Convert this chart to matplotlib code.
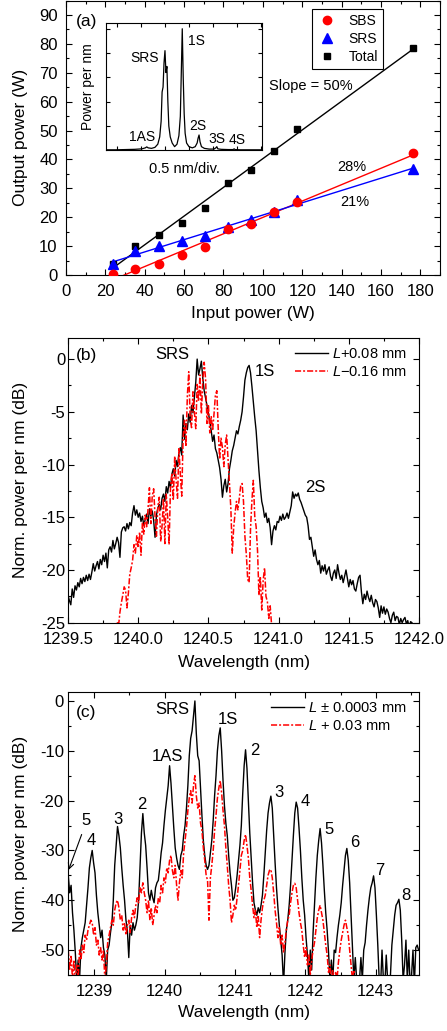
import numpy as np
import matplotlib
matplotlib.use('Agg')
import matplotlib.pyplot as plt
from matplotlib.ticker import MultipleLocator, FormatStrFormatter

plt.rcParams['font.family'] = ['Liberation Sans', 'DejaVu Sans']
plt.rcParams['mathtext.fontset'] = 'custom'
plt.rcParams['mathtext.rm'] = 'Liberation Sans'
plt.rcParams['mathtext.it'] = 'Liberation Sans:italic'
plt.rcParams['axes.unicode_minus'] = False

# ---- (a) output power vs input power ----
input_power = [23.7, 35.3, 47.1, 58.8, 70.5, 82.4, 94.1, 105.8, 117.5, 176.3]
out_sbs = [0.5, 2.1, 3.9, 6.9, 9.8, 15.9, 17.7, 21.7, 25.3, 42.1]
out_srs = [3.8, 8.2, 10.2, 11.6, 13.6, 16.5, 18.9, 21.9, 26.0, 36.7]
out_total = [3.8, 9.9, 13.8, 18.1, 23.1, 31.8, 36.2, 43.0, 50.6, 78.7]

# inset spectrum (linear, arb. units)
inset_wl = [1239.20, 1239.40, 1239.60, 1239.80, 1239.95, 1240.02, 1240.05, 1240.08, 1240.15, 1240.22,
            1240.28, 1240.32, 1240.35, 1240.37, 1240.39, 1240.41, 1240.43, 1240.45, 1240.47, 1240.49,
            1240.51, 1240.54, 1240.58, 1240.63, 1240.68, 1240.72, 1240.75, 1240.77, 1240.79, 1240.81,
            1240.83, 1240.85, 1240.88, 1240.93, 1241.00, 1241.06, 1241.10, 1241.12, 1241.14, 1241.16,
            1241.19, 1241.25, 1241.35, 1241.45, 1241.49, 1241.51, 1241.53, 1241.60, 1241.75, 1241.85,
            1241.87, 1241.89, 1242.00, 1242.20, 1242.45]
inset_pow = [0.02, 0.02, 0.03, 0.04, 0.06, 0.10, 0.14, 0.10, 0.08, 0.12,
             0.25, 0.55, 1.2, 2.4, 2.6, 3.6, 4.1, 3.2, 3.45, 2.0,
             1.0, 0.55, 0.3, 0.15, 0.25, 0.6, 1.4, 3.2, 5.0, 3.0,
             1.5, 0.7, 0.3, 0.15, 0.1, 0.15, 0.3, 0.5, 0.63, 0.35,
             0.15, 0.08, 0.05, 0.05, 0.1, 0.15, 0.06, 0.04, 0.03, 0.03,
             0.06, 0.03, 0.02, 0.02, 0.02]

# ---- (b) spectra, 0.01 nm grid ----
b_black_start = 1239.50
b_black = [
    -22.4, -22.9, -23.3, -21.8, -22.6, -21.5, -21.9, -21.2, -21.6, -20.8,
    -21.3, -20.7, -21.1, -20.5, -21.0, -20.4, -20.9, -20.2, -19.4, -20.1,
    -19.6, -19.2, -19.9, -19.0, -19.5, -18.6, -19.2, -18.4, -19.8, -18.1,
    -17.8, -18.3, -17.2, -18.0, -17.5, -16.9, -17.4, -18.8, -16.4, -16.0,
    -15.9, -16.3, -15.6, -16.1, -15.5, -15.8, -14.6, -13.9, -14.8, -14.3,
    -15.0, -14.6, -15.4, -14.9, -15.8, -15.2, -14.7, -15.6, -14.2, -14.9,
    -14.4, -15.3, -16.9, -14.8, -14.1, -13.8, -14.3, -13.2, -12.8, -13.5,
    -12.1, -12.7, -11.6, -12.2, -10.9, -10.4, -11.1, -9.6, -10.2, -8.9,
    -8.4, -9.1, -5.3, -7.6, -6.1, -6.7, -5.2, -6.0, -4.4, -5.1,
    -3.6, -2.2, 0.0, -1.5, -0.9, -0.2, -1.8, -3.0, -3.7, -4.4,
    -5.1, -5.9, -6.8, -7.8, -7.2, -8.5, -8.9, -9.6, -10.3, -11.4,
    -13.1, -12.0, -11.4, -12.6, -11.8, -10.4, -9.6, -8.7, -8.2, -7.5,
    -6.8, -7.1, -6.4, -5.8, -5.0, -3.6, -2.0, -1.3, -0.8, -0.6,
    -1.3, -2.6, -4.1, -5.5, -6.8, -8.7, -10.6, -12.2, -13.5, -14.1,
    -15.0, -14.6, -15.5, -15.1, -16.0, -17.6, -16.3, -15.8, -16.2, -15.4,
    -15.5, -14.9, -15.3, -14.7, -15.2, -15.0, -14.6, -15.1, -14.5, -13.9,
    -12.6, -13.2, -12.8, -13.0, -12.7, -13.3, -13.6, -14.0, -14.4, -14.8,
    -15.0, -15.8, -17.1, -16.9, -17.8, -18.7, -18.1, -19.0, -19.5, -19.1,
    -20.3, -19.6, -20.1, -19.5, -20.4, -20.0, -19.7, -20.6, -21.0, -20.3,
    -20.0, -20.8, -19.5, -20.3, -20.9, -20.5, -21.2, -20.6, -20.0, -20.8,
    -21.6, -20.9, -21.4, -21.0, -21.8, -22.0, -21.3, -20.7, -20.5, -22.1,
    -23.2, -22.3, -22.8, -22.0, -22.6, -23.0, -22.4, -23.1, -23.5, -22.8,
    -23.0, -23.6, -24.5, -23.4, -24.1, -23.5, -24.2, -23.7, -24.0, -24.6,
    -25.0, -24.3, -24.0, -24.8, -24.4, -24.5, -25.2, -24.6, -25.0, -24.7,
    -24.5, -25.1, -24.8, -25.5, -24.9, -25.0, -25.3]
b_red_start = 1239.84
b_red = [
    -25.6, -24.9, -25.3, -24.0, -23.1, -22.4, -21.6, -21.9, -23.6, -22.2,
    -20.4, -19.8, -19.1, -17.6, -18.4, -16.7, -17.9, -16.4, -18.6, -15.5,
    -16.6, -14.8, -15.9, -14.2, -12.2, -15.6, -13.0, -12.3, -14.9, -16.8,
    -14.0, -13.1, -17.3, -15.8, -13.2, -17.5, -12.8, -15.0, -17.6, -12.2,
    -10.8, -13.4, -9.2, -11.5, -13.2, -8.5, -10.9, -13.0, -7.4, -5.8,
    -8.3, -3.5, -1.2, -5.6, -6.5, -3.1, -5.0, -6.6, -2.4, -4.0,
    -1.5, -5.2, -2.1, -0.3, -1.9, -6.1, -4.3, -7.0, -5.4, -6.8,
    -5.2, -3.4, -3.0, -6.6, -9.5, -7.5, -8.4, -10.2, -8.1, -7.2,
    -9.5, -11.8, -14.2, -18.4, -16.0, -14.6, -13.5, -14.3, -13.2, -12.0,
    -11.8, -13.5, -16.8, -18.5, -20.9, -21.2, -16.1, -13.4, -11.5, -14.9,
    -15.9, -18.2, -22.4, -20.6, -23.8, -21.0, -19.8, -22.5, -23.0, -24.6,
    -23.4, -25.2, -26.5]

# ---- (c) spectra, 0.02 nm grid ----
c_black_start = 1238.63
c_black = [
    -35.0, -38.5, -37.0, -42.5, -46.0, -50.5, -56.0, -52.0, -56.0, -49.5,
    -47.5, -46.0, -44.5, -41.0, -37.5, -33.5, -31.5, -30.0, -32.5, -34.5,
    -39.0, -42.5, -45.0, -47.5, -46.0, -49.5, -51.0, -56.0, -50.0, -49.0,
    -46.5, -44.5, -40.0, -33.0, -29.0, -25.2, -27.0, -29.5, -33.5, -37.0,
    -40.0, -44.0, -46.0, -51.5, -45.0, -47.0, -44.5, -46.0, -45.0, -43.5,
    -40.0, -33.0, -26.5, -22.6, -26.5, -29.0, -33.5, -38.5, -40.0, -38.0,
    -39.5, -40.5, -37.5, -36.5, -36.0, -33.5, -30.5, -28.5, -25.0, -22.0,
    -19.5, -17.0, -13.0, -16.5, -21.0, -25.5, -29.5, -31.5, -33.0, -33.8,
    -31.0, -30.0, -27.0, -25.0, -21.5, -17.0, -11.0, -7.5, -6.0, -3.0,
    0.0, -6.5, -11.0, -12.0, -17.5, -23.0, -28.0, -31.0, -33.0, -33.8,
    -33.0, -30.5, -28.0, -24.0, -19.0, -15.0, -10.0, -7.0, -5.4, -10.0,
    -16.0, -21.0, -24.5, -27.0, -31.0, -34.5, -37.0, -40.0, -39.5, -37.5,
    -35.0, -32.0, -29.0, -25.0, -18.5, -13.0, -9.8, -13.5, -20.0, -26.5,
    -31.5, -36.5, -40.5, -42.0, -43.0, -41.5, -42.5, -41.0, -39.0, -35.0,
    -30.5, -26.0, -22.5, -20.5, -19.1, -21.5, -27.0, -32.5, -37.5, -41.5,
    -45.0, -48.0, -51.0, -57.0, -50.5, -46.0, -44.0, -41.0, -37.0, -32.0,
    -27.0, -22.5, -20.3, -21.5, -25.5, -30.0, -35.5, -40.0, -43.0, -47.5,
    -51.0, -56.0, -50.0, -54.0, -46.5, -41.0, -35.5, -31.0, -28.0, -25.6,
    -28.5, -33.0, -38.0, -42.5, -46.0, -50.5, -56.0, -52.0, -56.0, -50.0,
    -50.5, -47.5, -45.0, -43.0, -40.5, -37.0, -34.0, -31.0, -29.6, -32.0,
    -36.5, -43.0, -49.0, -56.0, -51.5, -56.0, -57.0, -56.0, -51.5, -56.0,
    -50.0, -48.5, -45.0, -42.0, -39.5, -37.5, -36.5, -35.1, -37.5, -43.0,
    -49.0, -56.0, -57.0, -50.0, -56.0, -57.0, -51.0, -56.0, -57.0, -55.0,
    -49.0, -46.0, -43.0, -41.0, -40.5, -39.8, -42.0, -48.0, -56.0, -53.0,
    -48.0, -56.0, -50.0, -57.0, -55.0, -50.0, -57.0, -49.5, -49.0, -50.0]
c_red_start = 1238.63
c_red = [
    -50.0, -54.0, -51.0, -56.0, -52.0, -57.0, -53.0, -56.0, -50.0, -52.0,
    -49.0, -50.5, -47.0, -48.0, -46.0, -45.0, -44.0, -44.5, -47.0, -45.5,
    -49.0, -48.0, -51.0, -49.5, -52.0, -50.0, -56.0, -53.0, -48.5, -47.0,
    -45.5, -44.0, -45.0, -42.0, -40.5, -40.0, -41.5, -44.0, -43.0, -46.0,
    -44.5, -47.0, -45.0, -44.0, -46.5, -43.5, -42.0, -43.5, -41.0, -39.5,
    -40.5, -37.5, -38.5, -36.5, -38.5, -40.0, -42.5, -40.0, -44.0, -41.5,
    -45.0, -43.0, -41.0, -42.5, -39.5, -40.5, -37.0, -38.5, -35.5, -36.5,
    -33.5, -34.5, -32.0, -31.0, -34.0, -35.5, -33.0, -37.0, -40.0, -36.5,
    -34.0, -35.5, -30.5, -28.0, -25.5, -22.0, -19.5, -18.0, -20.5, -17.0,
    -15.0, -19.0, -21.5, -20.5, -24.5, -26.0, -29.5, -32.0, -35.0, -36.0,
    -44.0, -35.5, -33.0, -30.0, -26.0, -23.0, -19.5, -17.5, -16.0, -18.5,
    -22.0, -25.0, -29.5, -33.0, -37.0, -40.0, -44.5, -43.0, -41.0, -42.0,
    -39.5, -37.0, -34.0, -31.0, -30.0, -28.0, -26.8, -29.0, -31.5, -35.5,
    -38.0, -41.0, -43.5, -42.0, -45.5, -43.0, -47.5, -44.0, -41.5, -40.0,
    -39.0, -37.0, -35.0, -34.0, -33.8, -35.5, -38.5, -42.0, -44.5, -47.5,
    -45.5, -49.0, -47.0, -50.5, -48.5, -46.0, -44.0, -43.0, -40.5, -38.5,
    -37.0, -36.6, -37.5, -40.0, -42.5, -44.5, -46.0, -49.0, -51.5, -49.5,
    -53.0, -51.0, -55.0, -52.0, -50.0, -48.5, -46.0, -43.5, -42.0, -41.0,
    -42.5, -44.0, -46.5, -49.0, -51.0, -54.5, -53.0, -56.0, -54.0, -57.0,
    -54.5, -56.0, -52.5, -50.0, -48.0, -46.5, -45.0, -44.0, -45.5, -47.0,
    -50.0, -53.0, -56.0, -54.0, -57.0]

RED = '#FF0000'
BLUE = '#0000FF'
RED_DASH = (0, (4, 1.3, 1.3, 1.3))

W, H = 447, 1031
fig = plt.figure(figsize=(W / 100, H / 100), dpi=100)


def px_axes(left, top, right, bottom):
    return fig.add_axes([left / W, 1 - bottom / H, (right - left) / W, (bottom - top) / H])


def style_ticks(ax, size=12, major=4, minor=2, xpad=5, ypad=5, labels=True):
    ax.tick_params(which='both', direction='in', top=True, right=True, width=0.8)
    ax.tick_params(which='major', length=major, labelsize=size)
    ax.tick_params(axis='x', which='major', pad=xpad)
    ax.tick_params(axis='y', which='major', pad=ypad)
    ax.tick_params(which='minor', length=minor)
    if not labels:
        ax.tick_params(labelbottom=False, labelleft=False)
    for s in ax.spines.values():
        s.set_linewidth(0.8)


# ================= (a) =================
ax_a = px_axes(66, 0.5, 440, 275)
xp = np.array(input_power)
for ys, col in [(out_total, 'black'), (out_sbs, RED), (out_srs, BLUE)]:
    k, b = np.polyfit(xp, ys, 1)
    xs = np.array([xp[0], xp[-1]])
    ax_a.plot(xs, k * xs + b, color=col, lw=1.0, zorder=2)
h_tot, = ax_a.plot(input_power, out_total, 's', color='black', ms=5, ls='none', label='Total', zorder=3)
h_srs, = ax_a.plot(input_power, out_srs, '^', color=BLUE, ms=6.5, ls='none', label='SRS', zorder=4)
h_sbs, = ax_a.plot(input_power, out_sbs, 'o', color=RED, ms=6, ls='none', label='SBS', zorder=5)
ax_a.set_xlim(0, 190)
ax_a.set_ylim(0, 95)
ax_a.xaxis.set_major_locator(MultipleLocator(20))
ax_a.xaxis.set_minor_locator(MultipleLocator(10))
ax_a.yaxis.set_major_locator(MultipleLocator(10))
ax_a.yaxis.set_minor_locator(MultipleLocator(5))
style_ticks(ax_a, xpad=6.3, ypad=6)
ax_a.set_xlabel('Input power (W)', fontsize=12.5)
ax_a.set_ylabel('Output power (W)', fontsize=12.5)
ax_a.xaxis.set_label_coords(0.5, -0.113)
ax_a.yaxis.set_label_coords(-0.102, 0.5)
leg = ax_a.legend(handles=[h_sbs, h_srs, h_tot], loc='upper right', bbox_to_anchor=(0.848, 0.969),
                  frameon=True, fancybox=False, edgecolor='black', framealpha=1, fontsize=10,
                  handletextpad=0.8, borderpad=0.35, labelspacing=0.3, handlelength=1.5,
                  borderaxespad=0)
leg.get_frame().set_linewidth(0.8)
ax_a.text(124.4, 65.5, 'Slope = 50%', ha='center', va='center', fontsize=10.5)
ax_a.text(145.3, 37.5, '28%', ha='center', va='center', fontsize=10.5)
ax_a.text(146.8, 25.2, '21%', ha='center', va='center', fontsize=10.5)
ax_a.text(0.027, 0.925, '(a)', transform=ax_a.transAxes, ha='left', va='center', fontsize=12.5)

# inset
ax_in = px_axes(105.7, 22.7, 262.3, 150.3)
ax_in.plot(inset_wl, inset_pow, color='black', lw=0.9)
ax_in.set_xlim(1239.195, 1242.4575)
ax_in.set_ylim(0, 5.25)
ax_in.set_xticks(np.arange(1239.43, 1242.45, 0.5))
ax_in.set_yticks([1, 2, 3, 4, 5])
style_ticks(ax_in, major=3, labels=False)
ax_in.set_ylabel('Power per nm', fontsize=10)
ax_in.set_xlabel('0.5 nm/div.', fontsize=10.5)
ax_in.yaxis.set_label_coords(-0.07, 0.5)
ax_in.xaxis.set_label_coords(0.5, -0.09)
for txt, x, y in [('SRS', 1240.014, 3.8), ('1S', 1241.076, 4.5), ('1AS', 1239.951, 0.55),
                  ('2S', 1241.12, 0.98), ('3S', 1241.514, 0.45), ('4S', 1241.93, 0.42)]:
    ax_in.text(x, y, txt, ha='center', va='center', fontsize=10)

# ================= (b) =================
ax_b = px_axes(68, 338, 419, 622.7)
wl_bk = b_black_start + 0.01 * np.arange(len(b_black))
wl_br = b_red_start + 0.01 * np.arange(len(b_red))
ax_b.plot(wl_bk, b_black, color='black', lw=1.0, label='$L$+0.08 mm')
ax_b.plot(wl_br, b_red, color=RED, lw=1.1, ls=RED_DASH, label='$L$\u22120.16 mm')
ax_b.set_xlim(1239.5, 1242.0)
ax_b.set_ylim(-25, 2)
ax_b.xaxis.set_major_locator(MultipleLocator(0.5))
ax_b.xaxis.set_minor_locator(MultipleLocator(0.25))
ax_b.xaxis.set_major_formatter(FormatStrFormatter('%.1f'))
ax_b.yaxis.set_major_locator(MultipleLocator(5))
ax_b.yaxis.set_minor_locator(MultipleLocator(2.5))
style_ticks(ax_b, xpad=7, ypad=2)
ax_b.set_xlabel('Wavelength (nm)', fontsize=12.5)
ax_b.set_ylabel('Norm. power per nm (dB)', fontsize=12.5)
ax_b.xaxis.set_label_coords(0.5, -0.112)
ax_b.yaxis.set_label_coords(-0.114, 0.5)
ax_b.legend(loc='upper right', bbox_to_anchor=(0.966, 0.968), frameon=False, fontsize=10.5,
            handlelength=2.3, handletextpad=0.3, borderpad=0, borderaxespad=0, labelspacing=0.3)
ax_b.text(0.023, 0.937, '(b)', transform=ax_b.transAxes, ha='left', va='center', fontsize=12.5)
ax_b.text(1240.242, 0.4, 'SRS', ha='center', va='center', fontsize=12)
ax_b.text(1240.902, -1.2, '1S', ha='center', va='center', fontsize=12)
ax_b.text(1241.265, -12.2, '2S', ha='center', va='center', fontsize=12)

# ================= (c) =================
ax_c = px_axes(68, 692, 419.3, 975)
wl_ck = c_black_start + 0.02 * np.arange(len(c_black))
wl_cr = c_red_start + 0.02 * np.arange(len(c_red))
ax_c.plot(wl_ck, c_black, color='black', lw=1.0, label='$L$ \u00b1 0.0003 mm')
ax_c.plot(wl_cr, c_red, color=RED, lw=1.1, ls=RED_DASH, label='$L$ + 0.03 mm')
ax_c.set_xlim(1238.626, 1243.62)
ax_c.set_ylim(-55, 1.8)
ax_c.xaxis.set_major_locator(MultipleLocator(1))
ax_c.xaxis.set_minor_locator(MultipleLocator(0.5))
ax_c.xaxis.set_major_formatter(FormatStrFormatter('%d'))
ax_c.yaxis.set_major_locator(MultipleLocator(10))
ax_c.yaxis.set_minor_locator(MultipleLocator(5))
style_ticks(ax_c, xpad=6.5, ypad=3)
ax_c.set_xlabel('Wavelength (nm)', fontsize=12.5)
ax_c.set_ylabel('Norm. power per nm (dB)', fontsize=12.5)
ax_c.xaxis.set_label_coords(0.5, -0.106)
ax_c.yaxis.set_label_coords(-0.114, 0.5)
ax_c.legend(loc='upper right', bbox_to_anchor=(0.965, 0.968), frameon=False, fontsize=10.5,
            handlelength=2.3, handletextpad=0.3, borderpad=0, borderaxespad=0, labelspacing=0.3)
ax_c.text(0.023, 0.926, '(c)', transform=ax_c.transAxes, ha='left', va='center', fontsize=12.5)
peak_labels = [('SRS', 1240.11, -1.7), ('1S', 1240.896, -3.7), ('1AS', 1240.034, -11.2),
               ('2', 1241.285, -10.0), ('3', 1241.621, -18.4), ('4', 1241.996, -20.2),
               ('5', 1242.342, -25.8), ('6', 1242.707, -28.4), ('7', 1243.062, -34.1),
               ('8', 1243.432, -39.0), ('2', 1239.673, -20.7), ('3', 1239.342, -23.7),
               ('4', 1238.963, -28.0), ('5', 1238.882, -24.0)]
for txt, x, y in peak_labels:
    ax_c.text(x, y, txt, ha='center', va='center', fontsize=12)
ax_c.annotate('', xy=(1238.635, -33.9), xytext=(1238.82, -26.8),
              arrowprops=dict(arrowstyle='->', lw=0.8, color='black', shrinkA=0, shrinkB=0))

fig.savefig('out.png', dpi=100)
